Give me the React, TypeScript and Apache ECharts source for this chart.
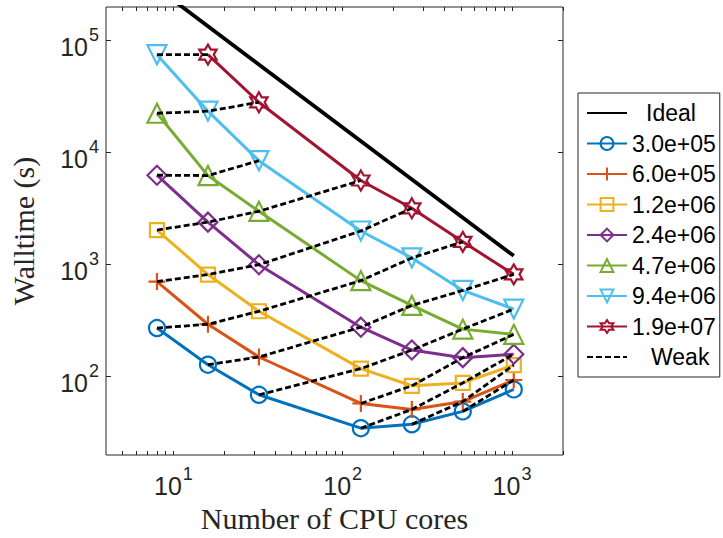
import React, { useEffect, useRef } from "react";
import * as echarts from "echarts";

// ---- data ----
const coreSlots = [8, 16, 32, 64, 128, 256, 512, 1024];
const cores = [8, 16, 32, 128, 256, 512, 1024];
const sizeLabels = ["3.0e+05", "6.0e+05", "1.2e+06", "2.4e+06", "4.7e+06", "9.4e+06", "1.9e+07"];
const wt3_0e5 = [272, 128, 69, 34.7, 37.6, 49, 77];
const wt6_0e5 = [707, 294, 150, 57.7, 51, 60, 93.5];
const wt1_2e6 = [2040, 817, 384, 118, 83, 88, 127];
const wt2_4e6 = [6300, 2400, 1000, 277, 173, 148, 159];
const wt4_7e6 = [22500, 6250, 3000, 721, 433, 266, 239];
const wt9_4e6 = [75000, 23500, 8490, 2000, 1150, 589, 402];
const wt1_9e7 = [null, 75200, 28200, 5650, 3190, 1600, 820];
const walltimes = [wt3_0e5, wt6_0e5, wt1_2e6, wt2_4e6, wt4_7e6, wt9_4e6, wt1_9e7];
const idealCores = [8, 1024];
const idealTime = [296000, 1200];
const xTickLabels = [10, 100, 1000];
const xTicks = [5, 6, 7, 8, 9, 10, 20, 30, 40, 50, 60, 70, 80, 90, 100, 200, 300, 400, 500, 600, 700, 800, 900, 1000, 2000];
const yTickLabels = [100, 1000, 10000, 100000];
const xRange = [4, 2000];
const yRange = [20, 200000];

// ---- style ----
const colors = ["#0072BD", "#D95319", "#EDB120", "#7E2F8E", "#77AC30", "#4DBEEE", "#A2142F"];
const axisColor = "#262626";
const hexPts: string[] = [];
for (let k = 0; k < 12; k++) {
  const a = ((-90 + k * 30) * Math.PI) / 180;
  const r = k % 2 === 0 ? 10 : 5.77;
  hexPts.push(`${(10 + r * Math.cos(a)).toFixed(2)},${(10 + r * Math.sin(a)).toFixed(2)}`);
}
const hexagram = "path://M" + hexPts.join("L") + "Z";
const plus = "path://M5,0L5,10M0,5L10,5";
const symbols = ["circle", plus, "rect", "diamond", "triangle", "triangle", hexagram];
const symbolSizes = [16, 17, 14, 19, 19, 19, 20];
const symbolRotates = [0, 0, 0, 0, 0, 180, 0];

const lx = (v: number) => Math.log10(v);

const richTick = {
  b: { fontSize: 25, fontFamily: "Liberation Sans", color: axisColor, lineHeight: 25, padding: [12, 0, 0, 0] },
  s: { fontSize: 18, fontFamily: "Liberation Sans", color: axisColor, lineHeight: 18, padding: [0, 0, 12, 1] },
};
const tickFmt = (v: number) => `{b|10}{s|${Math.round(v)}}`;

export default function App() {
  const ref = useRef<HTMLDivElement>(null);
  useEffect(() => {
    document.body.style.margin = "0";
    if (!ref.current) return;
    const chart = echarts.init(ref.current, undefined, { renderer: "svg" });

    const colored = sizeLabels.map((name, i) => ({
      type: "line",
      name,
      xAxisIndex: 0,
      yAxisIndex: 0,
      data: cores
        .map((c, j) => (walltimes[i][j] == null ? null : [c, walltimes[i][j]]))
        .filter((p) => p !== null),
      symbol: symbols[i],
      symbolSize: symbolSizes[i],
      symbolRotate: symbolRotates[i],
      symbolKeepAspect: true,
      showSymbol: true,
      lineStyle: { color: colors[i], width: 3 },
      itemStyle: { color: "rgba(0,0,0,0)", borderColor: colors[i], borderWidth: 2.2 },
      z: 2,
    }));

    const weak: any[] = [];
    for (let d = -(walltimes.length - 1); d <= coreSlots.length - 1; d++) {
      const pts: number[][] = [];
      for (let i = 0; i < walltimes.length; i++) {
        const j = i + d;
        if (j < 0 || j >= coreSlots.length) continue;
        const idx = cores.indexOf(coreSlots[j]);
        if (idx < 0) continue;
        const v = walltimes[i][idx];
        if (v == null) continue;
        pts.push([coreSlots[j], v]);
      }
      if (pts.length >= 2) {
        weak.push({
          type: "line",
          name: "Weak",
          xAxisIndex: 0,
          yAxisIndex: 0,
          data: pts,
          symbol: "none",
          lineStyle: { color: "#000", width: 2.8, type: [6, 3] },
          itemStyle: { color: "#000" },
          z: 4,
        });
      }
    }

    const ideal = {
      type: "line",
      name: "Ideal",
      xAxisIndex: 0,
      yAxisIndex: 0,
      data: idealCores.map((c, i) => [c, idealTime[i]]),
      symbol: "none",
      lineStyle: { color: "#000", width: 3.8 },
      itemStyle: { color: "#000" },
      z: 1,
    };

    const hidden = {
      axisLine: { show: false },
      axisTick: { show: false },
      axisLabel: { show: false },
      splitLine: { show: false },
    };

    const option: any = {
      animation: false,
      grid: {
        left: 99,
        top: 7,
        width: 464,
        height: 452,
        show: true,
        borderColor: axisColor,
        borderWidth: 1,
        backgroundColor: "transparent",
      },
      xAxis: [
        { type: "log", logBase: 10, min: xRange[0], max: xRange[1], ...hidden },
        {
          type: "value",
          position: "bottom",
          min: lx(xRange[0]),
          max: lx(xRange[1]),
          axisLine: { show: false },
          axisTick: {
            show: true,
            inside: true,
            length: 4,
            lineStyle: { color: axisColor, width: 1 },
            customValues: xTicks.map(lx),
          },
          axisLabel: {
            show: true,
            customValues: xTickLabels.map(lx),
            formatter: tickFmt,
            rich: richTick,
            margin: 12,
          },
          splitLine: { show: false },
          name: "Number of CPU cores",
          nameLocation: "middle",
          nameGap: 48,
          nameTextStyle: { fontFamily: "Liberation Serif", fontSize: 30, color: axisColor },
        },
        {
          type: "value",
          position: "top",
          min: lx(xRange[0]),
          max: lx(xRange[1]),
          axisLine: { show: false },
          axisTick: {
            show: true,
            inside: true,
            length: 4,
            lineStyle: { color: axisColor, width: 1 },
            customValues: xTicks.map(lx),
          },
          axisLabel: { show: false },
          splitLine: { show: false },
        },
      ],
      yAxis: [
        { type: "log", logBase: 10, min: yRange[0], max: yRange[1], ...hidden },
        {
          type: "value",
          position: "left",
          min: lx(yRange[0]),
          max: lx(yRange[1]),
          axisLine: { show: false },
          axisTick: {
            show: true,
            inside: true,
            length: 5,
            lineStyle: { color: axisColor, width: 1 },
            customValues: yTickLabels.map(lx),
          },
          axisLabel: {
            show: true,
            customValues: yTickLabels.map(lx),
            formatter: tickFmt,
            rich: richTick,
            margin: 7,
          },
          splitLine: { show: false },
          name: "Walltime (s)",
          nameLocation: "middle",
          nameGap: 68,
          nameTextStyle: { fontFamily: "Liberation Serif", fontSize: 30, color: axisColor },
        },
        {
          type: "value",
          position: "right",
          min: lx(yRange[0]),
          max: lx(yRange[1]),
          axisLine: { show: false },
          axisTick: {
            show: true,
            inside: true,
            length: 5,
            lineStyle: { color: axisColor, width: 1 },
            customValues: yTickLabels.map(lx),
          },
          axisLabel: { show: false },
          splitLine: { show: false },
        },
      ],
      legend: {
        orient: "vertical",
        left: 578,
        top: 93,
        padding: [7, 4, 7, 8],
        itemWidth: 40,
        itemHeight: 16,
        itemGap: 4.5,
        backgroundColor: "#fff",
        borderColor: axisColor,
        borderWidth: 1,
        borderRadius: 0,
        textStyle: {
          fontFamily: "Liberation Sans",
          fontSize: 23,
          lineHeight: 26,
          color: "#000",
          rich: {
            i: { fontFamily: "Liberation Sans", fontSize: 23, color: "#000", padding: [0, 0, 0, 14] },
            w: { fontFamily: "Liberation Sans", fontSize: 23, color: "#000", padding: [0, 0, 0, 19] },
          },
        },
        formatter: (name: string) =>
          name === "Ideal" ? "{i|Ideal}" : name === "Weak" ? "{w|Weak}" : name,
        data: [
          { name: "Ideal", itemStyle: { opacity: 0 } },
          ...sizeLabels,
          { name: "Weak", itemStyle: { opacity: 0 } },
        ],
      },
      series: [ideal, ...colored, ...weak],
    };
    chart.setOption(option);
    return () => chart.dispose();
  }, []);
  return <div ref={ref} style={{ width: 723, height: 538 }} />;
}
